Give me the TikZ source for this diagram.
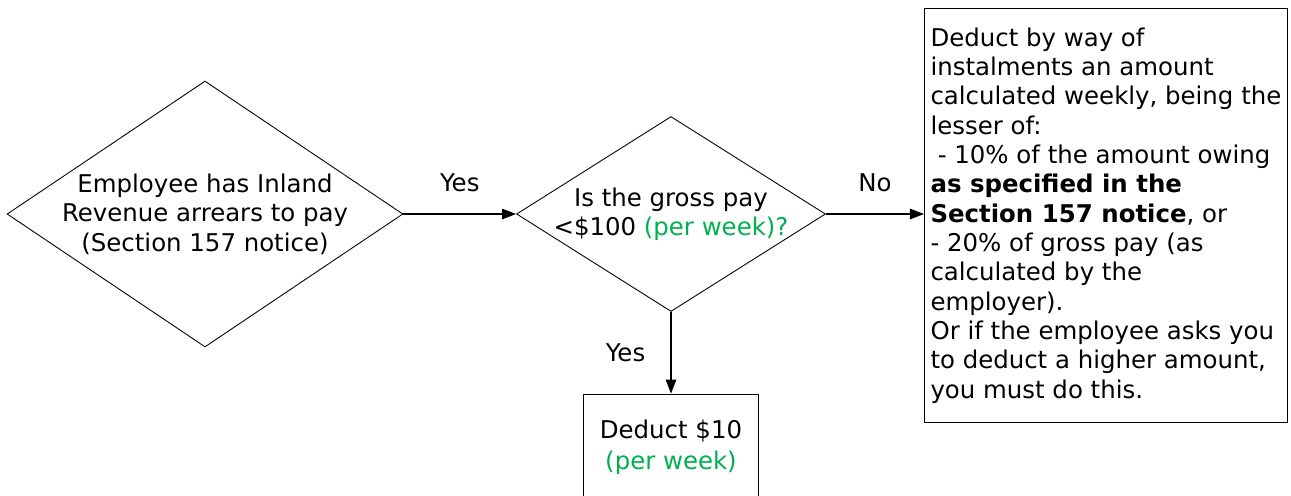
\documentclass[tikz,border=0pt]{standalone}
\usepackage{fontspec}
\setmainfont{DejaVu Sans}
\usepackage{xcolor}
\usetikzlibrary{arrows.meta,shapes.geometric,positioning}
\definecolor{notegreen}{RGB}{0,176,80}

\begin{document}
\begin{tikzpicture}[x=0.02cm,y=-0.02cm,
    font=\fontsize{13.9}{16.7}\selectfont,
    decision/.style={shape=diamond,draw=black,line width=0.5pt,inner sep=0pt},
    box/.style={shape=rectangle,draw=black,line width=0.5pt},
    flow/.style={-{Triangle[length=8pt,width=6pt]},line width=0.7pt}]
                \useasboundingbox (0,0) rectangle (1291,495);
                \clip (0,0) rectangle (1291,495);

                \node[decision,minimum width=7.92cm,minimum height=5.32cm] (Q1) at (205,214) {};
                \node[align=center] (Q1text) at (Q1) {Employee has Inland\\Revenue arrears to pay\\(Section 157 notice)};
                \node[decision,minimum width=6.18cm,minimum height=3.9cm] (Q2) at (671,214) {};
                \node[align=center] (Q2text) at (Q2) {Is the gross pay\\<\$100 \textcolor{notegreen}{(per week)?}};
                \node[box,minimum width=3.5cm,minimum height=2.12cm,align=center] (Flat) at (671,447) {Deduct \$10\\[1pt]\textcolor{notegreen}{(per week)}};
                \node[box,anchor=north west,minimum width=7.26cm,minimum height=8.28cm,
                      inner sep=0pt,align=left] (Rule) at (924,8)
                      {Deduct by way of\\
                       instalments an amount\\
                       calculated weekly, being the\\
                       lesser of:\\
                       \hspace{0.3em}- 10\% of the amount owing\\
                       \textbf{as specified in the}\\
                       \textbf{Section 157 notice}, or\\
                       - 20\% of gross pay (as\\
                       calculated by the\\
                       employer).\\
                       Or if the employee asks you\\
                       to deduct a higher amount,\\
                       you must do this.};

                \path [flow](Q1) edge node[above=9pt] {Yes} (Q2);
                \path [flow](Q2.east) edge node[above=9pt] {No} (Q2.east -| Rule.west);
                \path [flow](Q2) edge node[left=11pt] {Yes} (Flat);
            \end{tikzpicture}
\end{document}
